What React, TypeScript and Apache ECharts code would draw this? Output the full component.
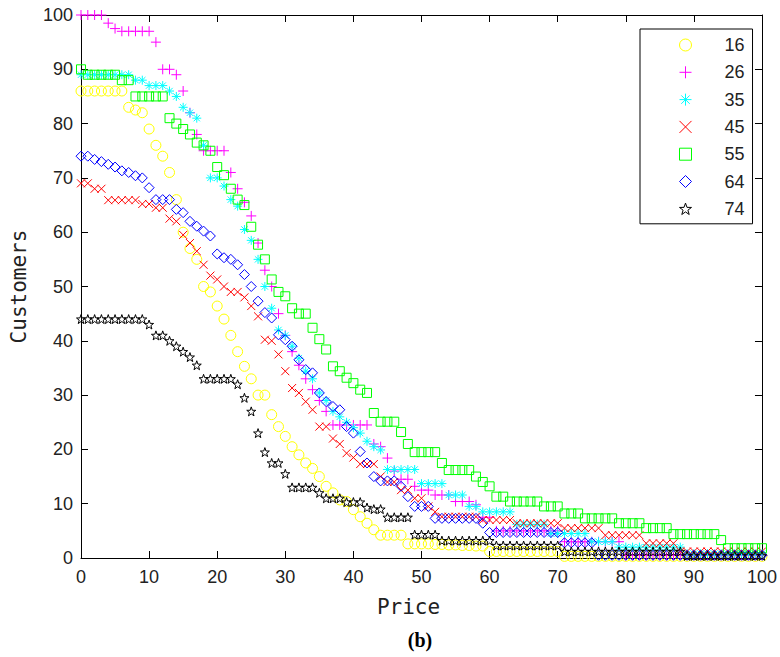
import React, { useEffect, useRef } from "react";
import * as echarts from "echarts";

const seriesNames = ["16", "26", "35", "45", "55", "64", "74"];
const xTicks = [0, 10, 20, 30, 40, 50, 60, 70, 80, 90, 100];

const price = [
  0, 1, 2, 3, 4, 5, 6, 7, 8, 9, 10, 11, 12, 13, 14, 15, 16, 17, 18, 19, 20,
  21, 22, 23, 24, 25, 26, 27, 28, 29, 30, 31, 32, 33, 34, 35, 36, 37, 38, 39, 40,
  41, 42, 43, 44, 45, 46, 47, 48, 49, 50, 51, 52, 53, 54, 55, 56, 57, 58, 59, 60,
  61, 62, 63, 64, 65, 66, 67, 68, 69, 70, 71, 72, 73, 74, 75, 76, 77, 78, 79, 80,
  81, 82, 83, 84, 85, 86, 87, 88, 89, 90, 91, 92, 93, 94, 95, 96, 97, 98, 99, 100,
];

const c16 = [
  86, 86, 86, 86, 86, 86, 86, 83, 82.5, 82,
  79, 76, 74, 71, 66, 60, 57, 55, 50, 49,
  46.4, 44, 41, 38, 35.3, 33, 30, 30, 26.4, 24.2,
  22.4, 20.5, 19, 17.5, 16.5, 15, 13.2, 12, 10.7, 10.4,
  8.9, 7.6, 6.4, 5.2, 4.2, 4.2, 4.2, 4.2, 2.6, 2.6,
  2.6, 2.6, 2.5, 2.5, 2.4, 2.4, 2.3, 2.3, 2.2, 2.2,
  1.2, 1.2, 1.2, 1.2, 1.2, 1.2, 1.2, 1.2, 1.2, 1.2,
  1.2, 0.3, 0.3, 0.3, 0.3, 0.3, 0.3, 0.3, 0.3, 0.3,
  0.3, 0.3, 0.3, 0.3, 0.3, 0.3, 0.3, 0.3, 0.3, 0.3,
  0.3, 0.3, 0.3, 0.3, 0.3, 0.3, 0.3, 0.3, 0.3, 0.3,
  0.3,
];

const c26 = [
  100, 100, 100, 100, 98.5, 97.5, 97, 97, 97, 97,
  97, 95, 90, 90, 89, 86, 82, 78, 75, 75,
  75, 75, 71, 68, 65.5, 63, 58, 53, 50, 45,
  41, 38, 35.5, 33, 31, 29, 27, 24.5, 24.5, 24.5,
  24.5, 24.5, 24.5, 21, 20.5, 18.4, 16, 14.5, 14.5, 13.2,
  12.5, 12.5, 11.6, 11.6, 11.6, 10.4, 10.4, 10.4, 9.8, 7.5,
  7.5, 5, 5, 5, 5, 5, 5, 5, 5, 5,
  5, 3, 3, 3, 3, 3, 3, 3, 3, 3,
  0.5, 0.5, 0.5, 0.5, 0.5, 0.5, 0.5, 0.5, 0.5, 0.5,
  0.5, 0.5, 0.5, 0.5, 0.5, 0.5, 0.5, 0.5, 0.5, 0.5,
  0.5,
];

const c35 = [
  89, 89, 89, 89, 89, 89, 89, 89, 88, 88,
  87, 87, 87, 86, 85, 83, 82, 81, 76, 70,
  70, 68.5, 66, 64.8, 60.5, 58.5, 55, 50, 46, 42,
  41, 39, 36.8, 34.4, 33, 30.4, 29, 27, 26, 25,
  24, 23, 21.5, 20.5, 19.9, 16.3, 16.3, 16.3, 16.3, 16.3,
  13.7, 13.7, 13.7, 13.7, 11.6, 11.6, 11.6, 9.5, 9.5, 8.5,
  8.5, 8.5, 8.5, 8.5, 6.2, 6.2, 6.2, 6.2, 6.2, 4.5,
  4.5, 4.5, 4.5, 4.5, 4.5, 3, 3, 3, 3, 2,
  2, 2, 2, 2, 2, 2, 2, 2, 2, 0.8,
  0.8, 0.8, 0.8, 0.8, 0.8, 0.8, 0.8, 0.8, 0.8, 0.8,
  0.8,
];

const c45 = [
  69, 69, 68, 68, 65.9, 65.9, 65.9, 65.9, 65.9, 65.2,
  65.2, 64.5, 64.5, 62.5, 62, 59.5, 58, 56.5, 54, 52,
  51.3, 50, 49, 49, 48, 46.4, 44.5, 40.2, 40, 37.5,
  34.4, 31.3, 30.4, 28.8, 27.3, 24.2, 24.2, 22, 21, 19.3,
  18.5, 17.3, 17.3, 17.3, 15, 14, 14, 12.5, 12.5, 11,
  11, 9.5, 8.5, 7.6, 7.6, 7.6, 7.6, 7.6, 7.6, 7,
  7, 7, 7, 7, 6.4, 6.4, 6.4, 6.4, 6.4, 6.4,
  6.4, 5.5, 5.5, 5.5, 5.5, 5.5, 5.5, 4.2, 4.2, 4.2,
  4.2, 4.2, 4.2, 2.7, 2.7, 2.7, 2.7, 2.7, 1.2, 1.2,
  1.2, 1.2, 1.2, 1.2, 1.2, 1.2, 1.2, 1.2, 1.2, 1.2,
  1.2,
];

const c55 = [
  90, 89, 89, 89, 89, 89, 88, 88, 85, 85,
  85, 85, 85, 81, 80, 79, 78, 76.5, 76, 75,
  72, 70.5, 68, 66, 65, 61, 57.7, 55, 51.3, 49,
  48.2, 46, 45, 45, 42.4, 40.3, 38.4, 35.3, 34.4, 33.2,
  32.2, 31, 30.4, 26.7, 25.1, 25.1, 25.1, 23.2, 21, 19.5,
  19.5, 19.5, 19.5, 17.5, 16.2, 16.2, 16.2, 16.2, 15, 14,
  13.2, 11.3, 11.3, 10.4, 10.4, 10.4, 10.4, 10.4, 9.5, 9.5,
  9.5, 8.2, 8.2, 8.2, 7.3, 7.3, 7.3, 7.3, 7.3, 6.4,
  6.4, 6.4, 6.4, 5.5, 5.5, 5.5, 5.5, 4.4, 4.4, 4.4,
  4.4, 4.4, 4.4, 4.4, 3.3, 1.8, 1.8, 1.8, 1.8, 1.8,
  1.8,
];

const c64 = [
  74, 74, 73.4, 73, 72.5, 72, 71.3, 71, 70.4, 70,
  68.2, 66, 66, 66, 64.2, 63.6, 62, 61.1, 60.2, 59.3,
  56, 55.3, 55, 54, 52.2, 50, 47.3, 45.2, 44.2, 41.1,
  40.2, 39, 36.5, 34.7, 34.1, 30.4, 28.8, 27.9, 27.3, 24.2,
  23, 19.6, 17.5, 15, 14.2, 14.2, 14.2, 13.2, 11.3, 9.5,
  9.5, 9.5, 7.3, 7.3, 7.3, 7.3, 7.3, 7.3, 7.3, 6.4,
  4.7, 4.7, 4.7, 4.7, 4.7, 4.7, 4.7, 4.7, 4.7, 4.7,
  4.7, 2.8, 2.8, 2.8, 2.8, 2.8, 0.5, 0.5, 0.5, 0.5,
  0.5, 0.5, 0.5, 0.5, 0.5, 0.5, 0.5, 0.5, 0.5, 0.5,
  0.5, 0.5, 0.5, 0.5, 0.5, 0.5, 0.5, 0.5, 0.5, 0.5,
  0.5,
];

const c74 = [
  44, 44, 44, 44, 44, 44, 44, 44, 44, 44,
  43, 41, 41, 40, 39, 38, 37, 35.5, 33, 33,
  33, 33, 33, 32, 29.5, 27, 23, 19.5, 17.5, 17.5,
  15.5, 13, 13, 13, 13, 12, 11, 11, 11, 10.3,
  10.3, 10.3, 9.3, 9, 9, 7.5, 7.5, 7.5, 7.5, 4.3,
  4.3, 4.3, 4.3, 3.2, 3.2, 3.2, 3.2, 3.2, 3.2, 3.2,
  3.2, 2.3, 2.3, 2.3, 2.3, 2.3, 2.3, 2.3, 2.3, 2.3,
  2.3, 1.2, 1.2, 1.2, 1.2, 1.2, 1.2, 1.2, 1.2, 1.2,
  1.2, 1.2, 1.2, 1.2, 1.2, 1.2, 1.2, 1.2, 1.2, 0.4,
  0.4, 0.4, 0.4, 0.4, 0.4, 0.4, 0.4, 0.4, 0.4, 0.4,
  0.4,
];

const allValues = [c16, c26, c35, c45, c55, c64, c74];

const colors = ["#ffff00", "#ff00ff", "#00ffff", "#ff0000", "#00ff00", "#0000ff", "#000000"];

const symbols = [
  "path://M10 5A5 5 0 1 1 0 5A5 5 0 1 1 10 5Z",
  "path://M5 0V10M0 5H10",
  "path://M5 0V10M0 5H10M1.5 1.5L8.5 8.5M8.5 1.5L1.5 8.5",
  "path://M0 0L10 10M10 0L0 10",
  "path://M0 0H10V10H0Z",
  "path://M5 0L10 5L5 10L0 5Z",
  "path://M5 0L6.18 3.38L9.76 3.45L6.9 5.62L7.94 9.05L5 7L2.06 9.05L3.1 5.62L0.24 3.45L3.82 3.38Z",
];
const symbolSizes = [10, 10, 9, 8, 9, 10, 9];

const tickFont = "Liberation Sans";
const nameFont = "DejaVu Sans Mono";

export default function App() {
  const ref = useRef<HTMLDivElement>(null);

  useEffect(() => {
    document.body.style.margin = "0";
    if (!ref.current) return;
    const chart = echarts.init(ref.current, null, { renderer: "svg" });

    const axisCommon = {
      type: "value" as const,
      min: 0,
      max: 100,
      interval: 10,
      splitLine: { show: false },
      axisLine: { show: true, onZero: false, lineStyle: { color: "#000", width: 1 } },
      axisTick: { show: true, inside: true, length: 7, lineStyle: { color: "#000", width: 1 } },
    };

    const series = seriesNames.map((name, i) => ({
      name,
      type: "scatter",
      xAxisIndex: 0,
      yAxisIndex: 0,
      symbol: symbols[i],
      symbolSize: symbolSizes[i],
      data: price.map((p, k) => [p, allValues[i][k]]),
      itemStyle: { color: "rgba(0,0,0,0)", borderColor: colors[i], borderWidth: 1, opacity: 1 },
      emphasis: { disabled: true },
      z: 2 + i,
    }));

    chart.setOption({
      animation: false,
      backgroundColor: "#fff",
      grid: { left: 78, right: 15, top: 15, bottom: 99, containLabel: false },
      xAxis: [
        {
          ...axisCommon,
          position: "bottom",
          axisLabel: {
            show: true,
            margin: 10,
            fontSize: 18,
            fontFamily: tickFont,
            color: "#222",
            formatter: (v: number) => (xTicks.includes(v) ? String(v) : ""),
          },
          name: "Price",
          nameLocation: "middle",
          nameGap: 38,
          nameTextStyle: {
            fontFamily: nameFont,
            fontSize: 21,
            color: "#222",
            padding: [0, 26, 0, 0],
          },
        },
        {
          ...axisCommon,
          position: "top",
          axisLabel: { show: false },
        },
      ],
      yAxis: [
        {
          ...axisCommon,
          position: "left",
          axisLabel: {
            show: true,
            margin: 8,
            fontSize: 18,
            fontFamily: tickFont,
            color: "#222",
          },
          name: "Customers",
          nameLocation: "middle",
          nameGap: 52,
          nameRotate: 90,
          nameTextStyle: { fontFamily: nameFont, fontSize: 21, color: "#222" },
        },
        {
          ...axisCommon,
          position: "right",
          axisLabel: { show: false },
        },
      ],
      legend: {
        show: true,
        orient: "vertical",
        left: 640,
        top: 29,
        backgroundColor: "#fff",
        borderColor: "#000",
        borderWidth: 1,
        padding: [7, 8, 6, 39],
        itemWidth: 12,
        itemHeight: 12,
        itemGap: 9.3,
        symbolKeepAspect: true,
        itemStyle: { borderWidth: 1 },
        textStyle: {
          fontFamily: tickFont,
          fontSize: 18,
          lineHeight: 18,
          color: "#222",
          padding: [0, 0, 0, 28],
        },
        data: seriesNames,
      },
      graphic: [
        {
          type: "text",
          x: 420,
          y: 630,
          style: {
            text: "(b)",
            font: 'bold 20px "Liberation Serif"',
            fill: "#000",
            textAlign: "center",
          },
        },
      ],
      series,
    });

    return () => chart.dispose();
  }, []);

  return <div ref={ref} style={{ width: 780, height: 657 }} />;
}
